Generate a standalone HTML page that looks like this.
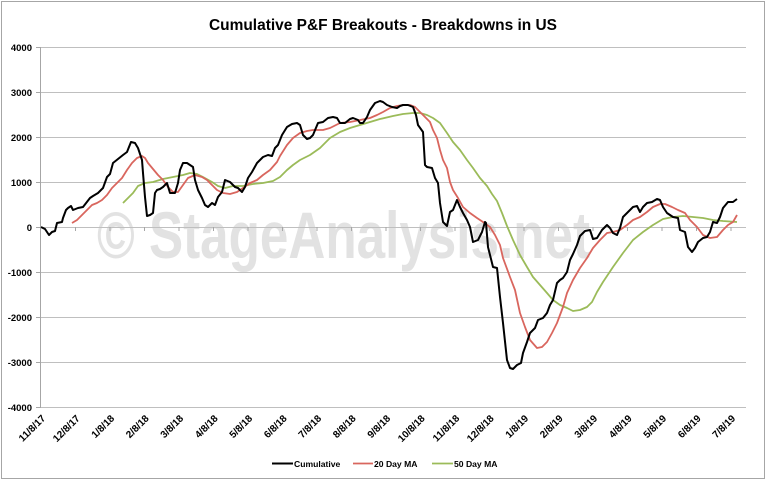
<!DOCTYPE html>
<html>
<head>
<meta charset="utf-8">
<style>
  html, body { margin:0; padding:0; background:#fff; }
  svg { display:block; }
  text { font-family: "Liberation Sans", Arial, sans-serif; font-weight: bold; fill:#000; }
</style>
</head>
<body>
<svg width="767" height="481" viewBox="0 0 767 481" xmlns="http://www.w3.org/2000/svg">
  <rect x="0" y="0" width="767" height="481" fill="#fff"/>
  <rect x="1.5" y="1.5" width="763" height="477" fill="none" stroke="#a6a6a6" stroke-width="1"/>

  <!-- Title -->
  <text x="209" y="30" font-size="16" textLength="348" lengthAdjust="spacingAndGlyphs">Cumulative P&amp;F Breakouts - Breakdowns in US</text>

  <!-- Watermark -->
  <text x="97" y="258" font-size="66" textLength="493" lengthAdjust="spacingAndGlyphs" style="fill:#e2e2e2">© StageAnalysis.net</text>

  <!-- Gridlines -->
  <g stroke="#bfbfbf" stroke-width="1">
    <line x1="40" y1="47.5" x2="746" y2="47.5"/>
    <line x1="40" y1="92.5" x2="746" y2="92.5"/>
    <line x1="40" y1="137.5" x2="746" y2="137.5"/>
    <line x1="40" y1="182.5" x2="746" y2="182.5"/>
    <line x1="40" y1="227.5" x2="746" y2="227.5"/>
    <line x1="40" y1="272.5" x2="746" y2="272.5"/>
    <line x1="40" y1="317.5" x2="746" y2="317.5"/>
    <line x1="40" y1="362.5" x2="746" y2="362.5"/>
    <line x1="40" y1="407.5" x2="746" y2="407.5"/>
  </g>
  <!-- Axis -->
  <g stroke="#a6a6a6" stroke-width="1">
    <line x1="40.5" y1="47" x2="40.5" y2="408"/>
    <line x1="36" y1="47.5" x2="40" y2="47.5"/>
    <line x1="36" y1="92.5" x2="40" y2="92.5"/>
    <line x1="36" y1="137.5" x2="40" y2="137.5"/>
    <line x1="36" y1="182.5" x2="40" y2="182.5"/>
    <line x1="36" y1="227.5" x2="40" y2="227.5"/>
    <line x1="36" y1="272.5" x2="40" y2="272.5"/>
    <line x1="36" y1="317.5" x2="40" y2="317.5"/>
    <line x1="36" y1="362.5" x2="40" y2="362.5"/>
    <line x1="36" y1="407.5" x2="40" y2="407.5"/>
  </g>
  <!-- x ticks on zero line -->
  <g stroke="#a6a6a6" stroke-width="1">
    <line x1="75.5" y1="227" x2="75.5" y2="231"/>
    <line x1="110" y1="227" x2="110" y2="231"/>
    <line x1="144.5" y1="227" x2="144.5" y2="231"/>
    <line x1="179" y1="227" x2="179" y2="231"/>
    <line x1="213.5" y1="227" x2="213.5" y2="231"/>
    <line x1="248" y1="227" x2="248" y2="231"/>
    <line x1="282.5" y1="227" x2="282.5" y2="231"/>
    <line x1="317" y1="227" x2="317" y2="231"/>
    <line x1="351.5" y1="227" x2="351.5" y2="231"/>
    <line x1="386" y1="227" x2="386" y2="231"/>
    <line x1="420.5" y1="227" x2="420.5" y2="231"/>
    <line x1="455" y1="227" x2="455" y2="231"/>
    <line x1="489.5" y1="227" x2="489.5" y2="231"/>
    <line x1="524" y1="227" x2="524" y2="231"/>
    <line x1="558.5" y1="227" x2="558.5" y2="231"/>
    <line x1="593" y1="227" x2="593" y2="231"/>
    <line x1="627.5" y1="227" x2="627.5" y2="231"/>
    <line x1="662" y1="227" x2="662" y2="231"/>
    <line x1="696.5" y1="227" x2="696.5" y2="231"/>
    <line x1="731" y1="227" x2="731" y2="231"/>
  </g>

  <!-- Y labels -->
  <g font-size="9.5" text-anchor="end">
    <text x="32" y="51">4000</text>
    <text x="32" y="96">3000</text>
    <text x="32" y="141">2000</text>
    <text x="32" y="186">1000</text>
    <text x="32" y="231">0</text>
    <text x="32" y="276">-1000</text>
    <text x="32" y="321">-2000</text>
    <text x="32" y="366">-3000</text>
    <text x="32" y="411">-4000</text>
  </g>

  <!-- X labels -->
  <g font-size="10" text-anchor="end">
    <text transform="translate(46,419) rotate(-45)">11/8/17</text>
    <text transform="translate(80.5,419) rotate(-45)">12/8/17</text>
    <text transform="translate(115,419) rotate(-45)">1/8/18</text>
    <text transform="translate(149.5,419) rotate(-45)">2/8/18</text>
    <text transform="translate(184,419) rotate(-45)">3/8/18</text>
    <text transform="translate(218.5,419) rotate(-45)">4/8/18</text>
    <text transform="translate(253,419) rotate(-45)">5/8/18</text>
    <text transform="translate(287.5,419) rotate(-45)">6/8/18</text>
    <text transform="translate(322,419) rotate(-45)">7/8/18</text>
    <text transform="translate(356.5,419) rotate(-45)">8/8/18</text>
    <text transform="translate(391,419) rotate(-45)">9/8/18</text>
    <text transform="translate(425.5,419) rotate(-45)">10/8/18</text>
    <text transform="translate(460,419) rotate(-45)">11/8/18</text>
    <text transform="translate(494.5,419) rotate(-45)">12/8/18</text>
    <text transform="translate(529,419) rotate(-45)">1/8/19</text>
    <text transform="translate(563.5,419) rotate(-45)">2/8/19</text>
    <text transform="translate(598,419) rotate(-45)">3/8/19</text>
    <text transform="translate(632.5,419) rotate(-45)">4/8/19</text>
    <text transform="translate(667,419) rotate(-45)">5/8/19</text>
    <text transform="translate(701.5,419) rotate(-45)">6/8/19</text>
    <text transform="translate(736,419) rotate(-45)">7/8/19</text>
  </g>

  <!-- 50 Day MA -->
  <polyline fill="none" stroke="#9bbb59" stroke-width="1.8" stroke-linejoin="round"
    points="123,203 128,198 133,193 138,186 145,183 153,182 163,179 173,177 183,175 190,173 197,174 203,177 212,182 218,186 225,188 233,186 243,186 253,184 263,183 273,181 280,177 287,170 293,165 300,160 310,155 320,148 330,138 340,132 350,128 360,125 370,122 380,119 393,116 403,114 413,113 420,113 427,115 433,118 440,123 447,133 453,142 460,150 467,160 473,168 480,178 487,186 492,194 497,201 502,213 507,226 513,240 520,255 527,267 533,277 540,285 547,293 553,300 560,305 567,308 573,311 580,310 587,307 592,302 597,292 603,282 613,267 623,253 633,240 643,232 653,225 663,219 673,217 683,216 693,217 703,218 713,220 723,221 737,222"/>

  <!-- 20 Day MA -->
  <polyline fill="none" stroke="#d9665e" stroke-width="1.8" stroke-linejoin="round"
    points="72,223 77,220 82,215 87,210 92,205 97,203 102,200 107,195 112,188 117,183 122,178 127,170 132,163 137,158 142,156 145,158 148,163 153,169 158,175 163,180 168,187 173,192 178,192 183,185 188,178 195,175 202,177 207,180 212,185 217,190 223,193 230,194 237,192 243,188 250,183 257,180 263,175 270,170 277,162 280,156 287,145 293,138 300,133 307,131 313,130 323,130 330,128 340,123 350,122 360,120 370,118 377,115 383,112 390,108 397,106 403,105 410,105 415,107 420,112 425,117 430,122 433,130 437,138 440,150 443,160 447,168 450,182 453,190 458,198 463,207 470,213 477,218 483,222 490,227 495,235 500,245 503,258 510,277 515,290 520,313 525,327 530,340 537,348 542,347 547,342 552,333 557,323 563,307 567,293 573,280 580,268 587,258 593,248 600,240 607,233 613,232 620,230 627,225 633,220 640,217 647,212 653,207 660,204 665,204 672,207 678,210 685,213 690,220 697,227 703,235 710,238 717,237 723,230 728,225 733,222 737,215"/>

  <!-- Cumulative -->
  <polyline fill="none" stroke="#000" stroke-width="2" stroke-linejoin="round"
    points="41,227 45,229 49,235 52,232 55,231 57,223 62,222 63,218 66,210 68,208 71,206 73,210 78,208 83,207 90,198 93,196 98,193 103,188 107,177 110,174 113,163 118,159 123,155 127,152 131,142 135,143 138,148 142,160 143,173 145,197 147,216 150,215 153,213 155,193 157,190 160,189 163,187 167,183 170,193 175,193 178,183 180,170 183,163 187,163 190,165 193,167 195,180 198,190 202,198 205,205 208,207 212,203 215,205 218,197 222,192 225,180 230,182 235,187 238,188 242,192 245,187 248,178 252,172 257,163 260,160 263,157 268,155 272,156 275,148 278,145 282,135 287,127 292,124 297,123 300,125 303,135 307,139 310,138 313,135 318,123 323,122 328,118 333,117 337,118 340,123 345,123 350,119 353,118 358,120 360,123 363,123 367,117 370,110 375,103 380,101 383,102 387,105 392,107 397,108 400,106 403,105 408,105 413,107 416,115 418,125 423,132 425,165 427,167 432,168 435,178 438,183 440,203 443,222 447,226 450,212 453,210 457,200 460,207 463,213 467,220 470,227 473,242 478,240 482,232 485,222 486,223 488,247 493,267 497,268 500,297 503,323 507,360 510,368 513,369 517,365 521,363 523,353 527,342 530,333 535,328 538,320 543,318 547,313 550,305 553,300 557,283 560,280 563,278 567,272 570,260 573,254 577,245 580,236 585,231 590,230 593,239 597,238 602,230 607,225 610,228 613,233 617,235 620,228 623,217 627,213 630,210 633,207 637,206 640,212 643,207 647,203 652,202 657,199 660,200 663,207 667,213 670,215 673,217 678,218 680,230 685,232 688,247 692,252 695,248 698,242 703,238 707,237 710,232 713,222 717,223 720,217 723,208 728,202 733,202 737,199"/>

  <!-- Legend -->
  <line x1="272" y1="463.5" x2="293" y2="463.5" stroke="#000" stroke-width="2"/>
  <text x="294" y="467" font-size="8.6">Cumulative</text>
  <line x1="353" y1="463.5" x2="373" y2="463.5" stroke="#d9665e" stroke-width="1.8"/>
  <text x="374" y="467" font-size="8.6">20 Day MA</text>
  <line x1="432" y1="463.5" x2="453" y2="463.5" stroke="#9bbb59" stroke-width="1.8"/>
  <text x="454" y="467" font-size="8.6">50 Day MA</text>
</svg>
</body>
</html>
